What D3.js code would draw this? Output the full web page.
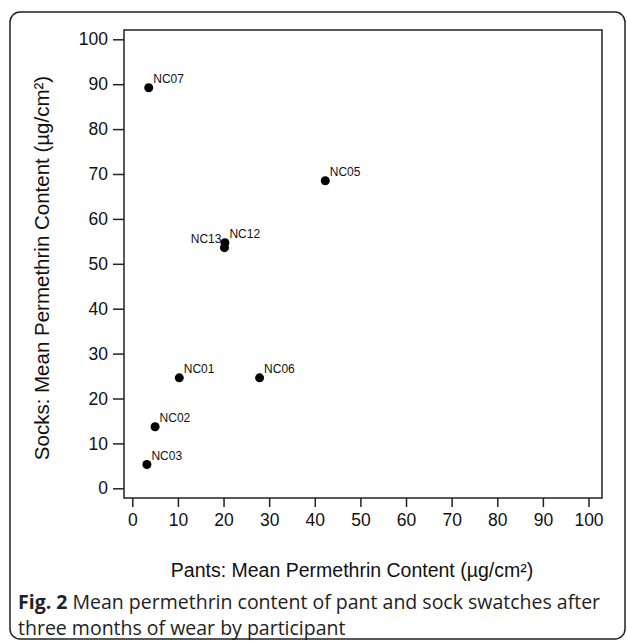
<!DOCTYPE html>
<html>
<head>
<meta charset="utf-8">
<script src="https://cdn.jsdelivr.net/npm/d3@7"></script>
<style>
    body { margin: 0; background: #fff; }
    svg { display: block; }
    .axis text { font-family: "Liberation Sans", Arial, sans-serif; font-size: 17.5px; fill: #111; }
    .axis line { stroke: #222; stroke-width: 1.5; }
</style>
</head>
<body>
<div id="chart"></div>
<script>
// Données
const participants = ['NC01', 'NC02', 'NC03', 'NC05', 'NC06', 'NC07', 'NC12', 'NC13'];
const pantsContent = [10.3, 5.0, 3.2, 42.3, 27.9, 3.6, 20.3, 20.2];
const socksContent = [24.6, 13.7, 5.3, 68.5, 24.6, 89.2, 54.7, 53.6];
const labelLeft = ['NC13'];
const tickValues = [0, 10, 20, 30, 40, 50, 60, 70, 80, 90, 100];

const WIDTH = 627;
const HEIGHT = 641;
const BOX = { left: 124, right: 602, top: 30, bottom: 498 };

const points = participants.map((id, i) => ({ id, x: pantsContent[i], y: socksContent[i] }));

const svg = d3.select('#chart').append('svg')
    .attr('width', WIDTH)
    .attr('height', HEIGHT);

// Cadre arrondi de la figure
svg.append('rect')
    .attr('x', 10).attr('y', 12)
    .attr('width', 615).attr('height', 627)
    .attr('rx', 10)
    .attr('fill', 'none')
    .attr('stroke', '#222')
    .attr('stroke-width', 1.5);

const xScale = d3.scaleLinear().domain([0, 100]).range([132.3, 588.5]);
const yScale = d3.scaleLinear().domain([0, 100]).range([488.3, 39.3]);

// Boîte du graphique
svg.append('rect')
    .attr('x', BOX.left).attr('y', BOX.top)
    .attr('width', BOX.right - BOX.left).attr('height', BOX.bottom - BOX.top)
    .attr('fill', 'none')
    .attr('stroke', '#222')
    .attr('stroke-width', 1.5);

// Axe X
svg.append('g')
    .attr('class', 'axis')
    .attr('transform', `translate(0,${BOX.bottom})`)
    .call(d3.axisBottom(xScale).tickValues(tickValues).tickSize(9).tickPadding(7))
    .call(g => g.select('.domain').remove());

// Axe Y
svg.append('g')
    .attr('class', 'axis')
    .attr('transform', `translate(${BOX.left},0)`)
    .call(d3.axisLeft(yScale).tickValues(tickValues).tickSize(11).tickPadding(5))
    .call(g => g.select('.domain').remove());

// Points
svg.selectAll('.dot')
    .data(points)
    .enter()
    .append('circle')
    .attr('class', 'dot')
    .attr('cx', d => xScale(d.x))
    .attr('cy', d => yScale(d.y))
    .attr('r', 4.5)
    .attr('fill', '#000');

// Étiquettes des participants
svg.selectAll('.lbl')
    .data(points)
    .enter()
    .append('text')
    .attr('class', 'lbl')
    .attr('x', d => labelLeft.includes(d.id) ? xScale(d.x) - 3 : xScale(d.x) + 4.5)
    .attr('y', d => yScale(d.y) - 5)
    .attr('text-anchor', d => labelLeft.includes(d.id) ? 'end' : 'start')
    .attr('font-family', '"Liberation Sans", Arial, sans-serif')
    .attr('font-size', '12px')
    .attr('fill', '#111')
    .text(d => d.id);

// Titres des axes
svg.append('text')
    .attr('x', 352)
    .attr('y', 577)
    .attr('text-anchor', 'middle')
    .attr('font-family', '"Liberation Sans", Arial, sans-serif')
    .attr('font-size', '19.5px')
    .attr('fill', '#111')
    .text('Pants: Mean Permethrin Content (µg/cm²)');

svg.append('text')
    .attr('transform', 'rotate(-90)')
    .attr('x', -268)
    .attr('y', 49)
    .attr('text-anchor', 'middle')
    .attr('font-family', '"Liberation Sans", Arial, sans-serif')
    .attr('font-size', '20.5px')
    .attr('fill', '#111')
    .text('Socks: Mean Permethrin Content (µg/cm²)');

// Légende de la figure
const caption = svg.append('text')
    .attr('font-family', '"Open Sans", sans-serif')
    .attr('font-size', '19.5px')
    .attr('fill', '#222');

const line1 = caption.append('tspan').attr('x', 18).attr('y', 609);
line1.append('tspan').attr('font-weight', 'bold').text('Fig. 2');
line1.append('tspan').text(' Mean permethrin content of pant and sock swatches after');
caption.append('tspan').attr('x', 18).attr('y', 635).text('three months of wear by participant');
</script>
</body>
</html>
